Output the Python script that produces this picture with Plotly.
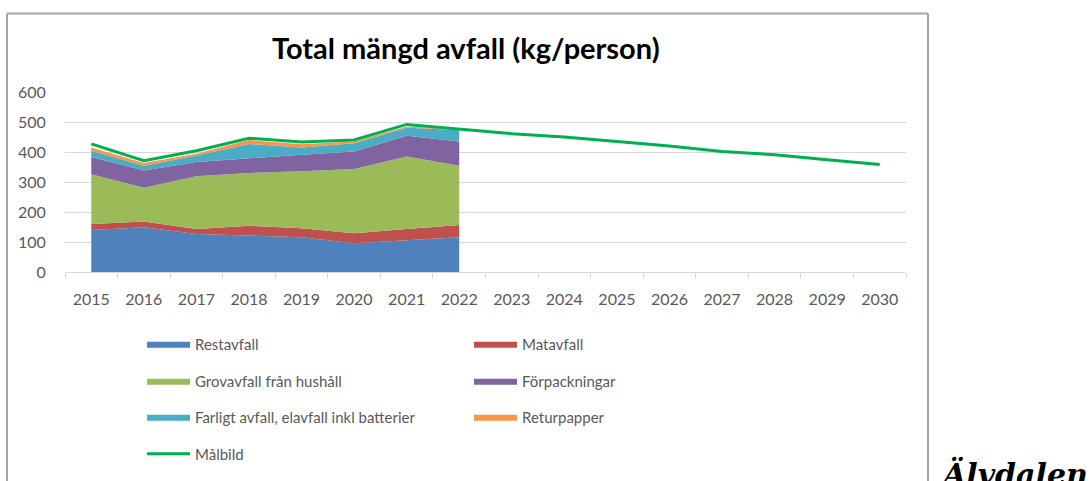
import plotly.graph_objects as go

years_hist = ['2015', '2016', '2017', '2018', '2019', '2020', '2021', '2022']
years_all = ['2015', '2016', '2017', '2018', '2019', '2020', '2021', '2022',
             '2023', '2024', '2025', '2026', '2027', '2028', '2029', '2030']

restavfall = [140, 149, 127, 121, 116, 96, 105, 116]
matavfall = [20, 19, 16, 33, 30, 33, 38, 41]
grovavfall = [166, 113, 176, 176, 190, 214, 242, 197]
forpackningar = [57, 57, 48, 50, 55, 59, 69, 81]
farligt = [21, 16, 21, 47, 24, 27, 27, 38]
returpapper = [11, 9, 6, 13, 11, 6, 4, 2]
malbild = [427, 371, 404, 446, 433, 440, 492, 477, 461, 450, 435, 420, 402, 391, 374, 358]

y_ticks = [0, 100, 200, 300, 400, 500, 600]

area_series = [
    ("Restavfall", restavfall, "#4F81BD", "legend"),
    ("Matavfall", matavfall, "#C0504D", "legend"),
    ("Grovavfall från hushåll", grovavfall, "#9BBB59", "legend2"),
    ("Förpackningar", forpackningar, "#8064A2", "legend2"),
    ("Farligt avfall, elavfall inkl batterier", farligt, "#4BACC6", "legend3"),
    ("Returpapper", returpapper, "#F79646", "legend3"),
]

FONT = "Lato"
W, H = 1091, 481
ML, MR, MT, MB = 65, 185, 92, 208
PW = W - ML - MR
PH = H - MT - MB


def px_x(p):
    return (p - ML) / PW


def px_y(p):
    return (H - MB - p) / PH


fig = go.Figure()
for name, vals, color, leg in area_series:
    fig.add_trace(go.Scatter(
        x=years_hist, y=vals, name=name, stackgroup="one",
        mode="lines", line=dict(width=0, color=color),
        fillcolor=color, legend=leg, hoverinfo="x+y+name",
    ))

fig.add_trace(go.Scatter(
    x=years_all, y=malbild, name="Målbild", mode="lines",
    line=dict(color="#00B050", width=3), legend="legend4",
))

leg_common = dict(
    orientation="h", xanchor="left", yanchor="middle",
    font=dict(family=FONT, size=15, color="#595959"),
    entrywidth=269, bgcolor="rgba(0,0,0,0)", itemwidth=43,
    traceorder="normal",
)
legx = px_x(142)

fig.update_layout(
    width=W, height=H,
    margin=dict(l=ML, r=MR, t=MT, b=MB),
    paper_bgcolor="white", plot_bgcolor="white",
    font=dict(family=FONT, color="#595959"),
    showlegend=True,
    legend=dict(x=legx, y=px_y(344), **leg_common),
    legend2=dict(x=legx, y=px_y(381), **leg_common),
    legend3=dict(x=legx, y=px_y(417), **leg_common),
    legend4=dict(x=legx, y=px_y(454), **leg_common),
    xaxis=dict(
        type="category", categoryorder="array", categoryarray=years_all,
        range=[-0.5, 15.5], showgrid=False, showline=True,
        linecolor="#D9D9D9", linewidth=1,
        ticks="outside", tickson="boundaries", ticklen=5, tickcolor="#D9D9D9",
        tickfont=dict(family=FONT, size=16, color="#595959"),
        ticklabelstandoff=13, zeroline=False,
    ),
    yaxis=dict(
        range=[0, 600], tickvals=y_ticks, showgrid=True, gridcolor="#D9D9D9",
        gridwidth=1, zeroline=False, showline=False,
        ticks="outside", ticklen=0, ticklabelstandoff=15,
        tickfont=dict(family=FONT, size=16, color="#595959"),
    ),
)

fig.add_annotation(
    text="<b>Total mängd avfall (kg/person)</b>", xref="paper", yref="paper",
    x=px_x(466), y=px_y(47), xanchor="center", yanchor="middle",
    showarrow=False, font=dict(family=FONT, size=29, color="#000000"),
)

fig.add_annotation(
    text="<b><i>Älvdalen</i></b>", xref="paper", yref="paper",
    x=px_x(938), y=px_y(456), xanchor="left", yanchor="top",
    showarrow=False, font=dict(family="DejaVu Serif", size=30, color="#000000"),
)

border = dict(color="#A6A6A6", width=2)
fig.add_shape(type="line", xref="paper", yref="paper",
              x0=px_x(7), x1=px_x(7), y0=px_y(13), y1=px_y(500), line=border)
fig.add_shape(type="line", xref="paper", yref="paper",
              x0=px_x(7), x1=px_x(928), y0=px_y(13), y1=px_y(13), line=border)
fig.add_shape(type="line", xref="paper", yref="paper",
              x0=px_x(928), x1=px_x(928), y0=px_y(13), y1=px_y(500), line=border)

fig.write_html(
    "out.html",
    config={"displayModeBar": False},
    post_script="document.body.style.margin='0';document.body.style.padding='0';",
)
